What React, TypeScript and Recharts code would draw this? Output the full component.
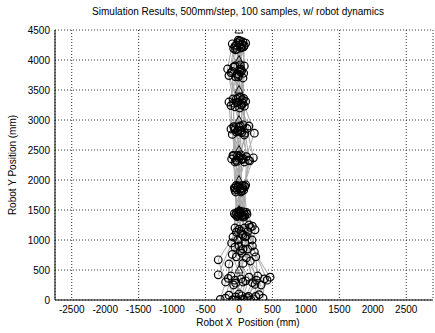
import React from 'react';
import { ScatterChart, Scatter, XAxis, YAxis, CartesianGrid } from 'recharts';

// axis ticks
const X_TICKS = [-2500, -2000, -1500, -1000, -500, 0, 500, 1000, 1500, 2000, 2500];
const Y_TICKS = [0, 500, 1000, 1500, 2000, 2500, 3000, 3500, 4000, 4500];

// step targets (triangles)
const TARGET_X = [0, 0, 0, 0, 0, 0, 0, 0, 0];
const TARGET_Y = [500, 1000, 1500, 2000, 2500, 3000, 3500, 4000, 4500];

// a selection of the simulated runs, [x, y] in mm per step
const run01 = [[-20, 0], [60, 300], [40, 780], [30, 1150], [10, 1430], [20, 1860], [0, 2360], [30, 2830], [-10, 3300], [20, 3800], [10, 4250]];
const run02 = [[120, 40], [260, 330], [130, 850], [80, 1200], [40, 1400], [-20, 1880], [50, 2340], [-40, 2800], [30, 3260], [-30, 3760], [40, 4210]];
const run03 = [[-280, 10], [-200, 300], [-310, 670], [-90, 1050], [-40, 1450], [-60, 1830], [-80, 2400], [-70, 2870], [-90, 3350], [-170, 3850], [-100, 4270]];
const run04 = [[250, 60], [420, 330], [200, 900], [240, 1170], [110, 1460], [80, 1900], [160, 2320], [90, 2780], [60, 3280], [80, 3900], [60, 4300]];
const run05 = [[60, 20], [150, 380], [-40, 720], [-20, 1000], [-30, 1390], [40, 1820], [-20, 2410], [20, 2900], [-60, 3220], [-10, 3720], [-30, 4180]];
const run06 = [[-100, 0], [-80, 250], [-310, 420], [-110, 950], [20, 1480], [-10, 1900], [80, 2300], [230, 2780], [50, 3340], [40, 3820], [20, 4320]];
const run07 = [[300, 90], [465, 380], [230, 800], [195, 1000], [90, 1420], [60, 1860], [215, 2370], [120, 2860], [20, 3380], [60, 3700], [80, 4240]];
const run08 = [[0, 100], [-60, 330], [60, 610], [40, 1100], [-20, 1470], [-50, 1800], [-40, 2330], [-100, 2760], [-120, 3240], [-80, 3880], [-50, 4170]];
const run09 = [[180, 0], [330, 250], [110, 700], [150, 1250], [60, 1380], [100, 1920], [110, 2390], [60, 2920], [100, 3310], [0, 3760], [-20, 4290]];
const run10 = [[-200, 30], [-120, 400], [-60, 880], [-60, 1200], [-70, 1440], [20, 1850], [-110, 2350], [-20, 2820], [-30, 3290], [-120, 3790], [-60, 4230]];
const run11 = [[80, 10], [200, 290], [90, 950], [110, 1060], [30, 1450], [-40, 1910], [30, 2420], [80, 2750], [80, 3230], [30, 3850], [30, 4200]];
const run12 = [[-50, 50], [30, 350], [-100, 760], [0, 1180], [50, 1410], [70, 1830], [-60, 2300], [0, 2880], [-10, 3370], [-50, 3720], [100, 4280]];
const run13 = [[360, 30], [380, 350], [170, 650], [130, 1140], [120, 1430], [-70, 1870], [60, 2360], [-120, 2850], [-150, 3300], [20, 3920], [-10, 4330]];
const run14 = [[-150, 80], [-50, 280], [20, 820], [-40, 1130], [0, 1460], [90, 1890], [140, 2330], [40, 2790], [40, 3250], [-100, 3810], [50, 4260]];
const run15 = [[220, 20], [280, 400], [250, 720], [170, 1210], [80, 1390], [-30, 1840], [0, 2390], [150, 2900], [-40, 3350], [-150, 3740], [-80, 4190]];
const run16 = [[40, 70], [100, 320], [0, 900], [90, 1050], [-50, 1420], [50, 1910], [-90, 2410], [-60, 2840], [10, 3200], [70, 3780], [0, 4310]];
const run17 = [[-80, 0], [-160, 360], [-150, 600], [60, 1080], [70, 1470], [30, 1800], [40, 2350], [20, 2810], [70, 3360], [-60, 3900], [70, 4220]];
const run18 = [[140, 60], [240, 260], [60, 850], [200, 1230], [-10, 1400], [-60, 1870], [-30, 2310], [-80, 2890], [-80, 3280], [10, 3840], [-40, 4250]];

const RUNS = [run01, run02, run03, run04, run05, run06, run07, run08, run09, run10, run11, run12, run13, run14, run15, run16, run17, run18];

const FONT = '"Liberation Sans", Arial, Helvetica, sans-serif';

const toPts = (run: number[][]) => run.map(([x, y]) => ({ x, y }));
const allPts = RUNS.flatMap(toPts);
const targets = TARGET_X.map((x, i) => ({ x, y: TARGET_Y[i] }));

const NoDot = () => <g />;

const Ring = (props: any) => (
  <circle cx={props.cx} cy={props.cy} r={3.8} fill="none" stroke="#000" strokeWidth={1.2} />
);

const Tri = (props: any) => {
  const { cx, cy } = props;
  return (
    <path
      d={`M${cx},${cy - 4.5} L${cx + 4},${cy + 3} L${cx - 4},${cy + 3} Z`}
      fill="none"
      stroke="#000"
      strokeWidth={0.9}
    />
  );
};

export default function App() {
  return (
    <div style={{ position: 'absolute', left: 0, top: 0, width: 435, height: 333, background: '#fff', fontFamily: FONT }}>
      <div style={{ position: 'absolute', left: 0, width: 476, top: 6, textAlign: 'center', fontSize: 10, color: '#000' }}>
        Simulation Results, 500mm/step, 100 samples, w/ robot dynamics
      </div>
      <div style={{ position: 'absolute', left: 90, width: 316, top: 317, textAlign: 'center', fontSize: 10, color: '#000', whiteSpace: 'pre' }}>
        {'Robot X  Position (mm)'}
      </div>
      <div
        style={{
          position: 'absolute',
          left: 12,
          top: 165,
          fontSize: 10,
          color: '#000',
          whiteSpace: 'nowrap',
          transform: 'translate(-50%, -50%) rotate(-90deg)',
        }}
      >
        Robot Y Position (mm)
      </div>
      <ScatterChart width={435} height={333} margin={{ top: 30, right: 2, bottom: 0, left: 0 }}>
        <CartesianGrid strokeDasharray="1 2" stroke="#333" />
        <XAxis
          type="number"
          dataKey="x"
          domain={[-2750, 2900]}
          ticks={X_TICKS}
          allowDataOverflow
          height={33}
          tickLine={false}
          tickSize={4}
          tickMargin={2}
          axisLine={{ stroke: '#000', strokeWidth: 1 }}
          tick={{ fontSize: 10, fill: '#000', fontFamily: FONT }}
        />
        <YAxis
          type="number"
          dataKey="y"
          domain={[0, 4500]}
          ticks={Y_TICKS}
          allowDataOverflow
          width={55}
          tickLine={false}
          tickSize={3}
          tickMargin={2}
          axisLine={{ stroke: '#000', strokeWidth: 1 }}
          tick={{ fontSize: 10, fill: '#000', fontFamily: FONT }}
        />
        {RUNS.map((run, i) => (
          <Scatter
            key={i}
            data={toPts(run)}
            line={{ stroke: '#a8a8a8', strokeWidth: 1 }}
            lineType="joint"
            shape={NoDot}
            isAnimationActive={false}
          />
        ))}
        <Scatter data={targets} shape={Tri} isAnimationActive={false} />
        <Scatter data={allPts} shape={Ring} isAnimationActive={false} />
      </ScatterChart>
    </div>
  );
}
